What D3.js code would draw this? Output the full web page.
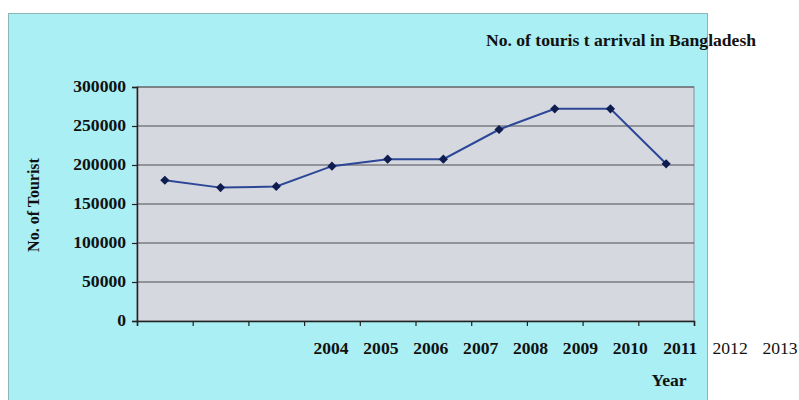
<!DOCTYPE html>
<html>
<head>
<meta charset="utf-8">
<script src="https://cdn.jsdelivr.net/npm/d3@7"></script>
<style>
  html, body { margin: 0; padding: 0; background: #ffffff; }
  svg { display: block; }
  text { font-family: "Liberation Serif", "Times New Roman", serif; fill: #111; }
</style>
</head>
<body>
<svg id="chart" width="799" height="400"></svg>
<script>
// Tourist arrivals in Bangladesh, by year
const years = ["2004", "2005", "2006", "2007", "2008", "2009", "2010", "2011", "2012", "2013"];
const arrivals = [180500, 171000, 172500, 198500, 207500, 207500, 245500, 272000, 272000, 201500];
const yTicks = [0, 50000, 100000, 150000, 200000, 250000, 300000];
const titleText = "No. of touris t arrival in Bangladesh";
const yTitle = "No. of Tourist";
const xTitle = "Year";

// the typeface is set slightly wide
const WIDE = 1.1;
const FS = 16;

const svg = d3.select("#chart");

// outer cyan chart panel
svg.append("rect")
  .attr("x", 8.5).attr("y", 13.5)
  .attr("width", 699).attr("height", 400)
  .attr("fill", "#a9eff3")
  .attr("stroke", "#8fb4b8").attr("stroke-width", 1);

const plot = { left: 137, right: 694, top: 87, bottom: 321 };

const x = d3.scaleBand().domain(years).range([plot.left, plot.right]);
const xEdge = d3.scaleLinear().domain([0, years.length]).range([plot.left, plot.right]);
const y = d3.scaleLinear().domain([0, 300000]).range([plot.bottom, plot.top]);

// plot area background
svg.append("rect")
  .attr("x", plot.left).attr("y", plot.top)
  .attr("width", plot.right - plot.left).attr("height", plot.bottom - plot.top)
  .attr("fill", "#d5d8df")
  .attr("stroke", "#8c8f96").attr("stroke-width", 1);

// horizontal gridlines
svg.append("g")
  .selectAll("line")
  .data(yTicks.filter(v => v > 0))
  .join("line")
  .attr("x1", plot.left).attr("x2", plot.right)
  .attr("y1", d => y(d)).attr("y2", d => y(d))
  .attr("stroke", "#4e4e52").attr("stroke-width", 1.2);

// y axis
const yAxis = svg.append("g")
  .attr("transform", `translate(${plot.left},0)`)
  .call(d3.axisLeft(y).tickValues(yTicks).tickSize(5).tickFormat(""));
yAxis.select(".domain").attr("stroke", "#222").attr("stroke-width", 1.5);
yAxis.selectAll(".tick line").attr("stroke", "#222").attr("stroke-width", 1.2);

svg.append("g")
  .selectAll("text")
  .data(yTicks)
  .join("text")
  .attr("transform", d => `translate(${plot.left - 11},${y(d)}) scale(${WIDE},1)`)
  .attr("dy", "0.34em")
  .attr("text-anchor", "end")
  .attr("font-size", FS).attr("font-weight", "bold")
  .text(d3.format("d"));

// x axis: tick marks at category boundaries
const xAxis = svg.append("g")
  .attr("transform", `translate(0,${plot.bottom})`)
  .call(d3.axisBottom(xEdge).tickValues(d3.range(0, years.length + 1)).tickSize(5).tickFormat(""));
xAxis.select(".domain").attr("stroke", "#222").attr("stroke-width", 1.5);
xAxis.selectAll(".tick line").attr("stroke", "#222").attr("stroke-width", 1.2);

// year labels row
const labelPos = d3.scalePoint().domain(years).range([331, 780]);
svg.append("g")
  .selectAll("text")
  .data(years)
  .join("text")
  .attr("transform", d => `translate(${labelPos(d)},354) scale(${WIDE},1)`)
  .attr("text-anchor", "middle")
  .attr("font-size", FS)
  .attr("font-weight", (d, i) => i < 8 ? "bold" : "normal")
  .text(d => d);

// data line
const cx = (d, i) => x(years[i]) + x.bandwidth() / 2;
const line = d3.line().x(cx).y(d => y(d));

svg.append("path")
  .datum(arrivals)
  .attr("d", line)
  .attr("fill", "none")
  .attr("stroke", "#2c4797")
  .attr("stroke-width", 2);

svg.append("g")
  .selectAll("path")
  .data(arrivals)
  .join("path")
  .attr("transform", (d, i) => `translate(${cx(d, i)},${y(d)}) rotate(45)`)
  .attr("d", d3.symbol().type(d3.symbolSquare).size(42))
  .attr("fill", "#0e1c4f");

// titles
svg.append("text")
  .attr("transform", `translate(486,46) scale(${WIDE},1)`)
  .attr("font-size", FS).attr("font-weight", "bold")
  .text(titleText);

svg.append("text")
  .attr("transform", "translate(39,205) rotate(-90)")
  .attr("text-anchor", "middle")
  .attr("font-size", FS).attr("font-weight", "bold")
  .text(yTitle);

svg.append("text")
  .attr("transform", `translate(669,386) scale(${WIDE},1)`)
  .attr("text-anchor", "middle")
  .attr("font-size", FS).attr("font-weight", "bold")
  .text(xTitle);
</script>
</body>
</html>
